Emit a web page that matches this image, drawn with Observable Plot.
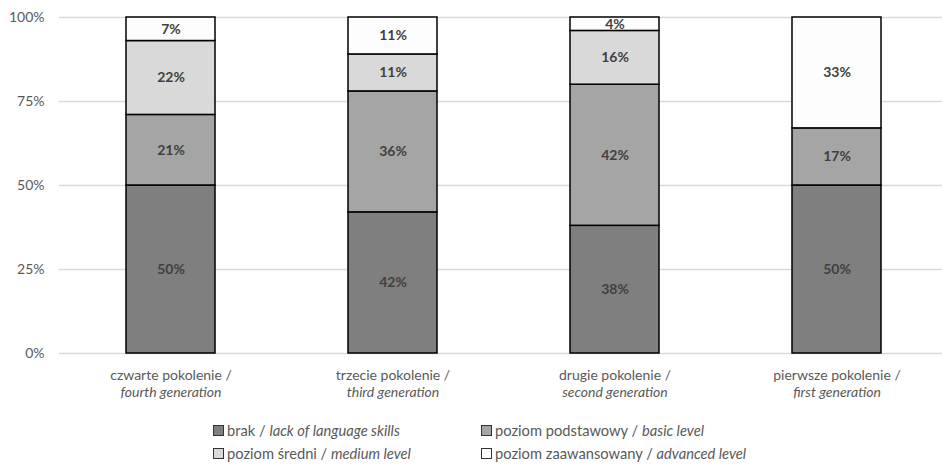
<!DOCTYPE html>
<html>
<head>
<meta charset="utf-8">
<script src="https://cdn.jsdelivr.net/npm/d3@7"></script>
<script src="https://cdn.jsdelivr.net/npm/@observablehq/plot@0.6"></script>
<style>
  body { margin: 0; background: #fff; font-family: Lato, "Open Sans", sans-serif; }
  #wrap { position: relative; width: 942px; height: 465px; }
  .legend { position: absolute; font-size: 14.7px; color: #595959; white-space: nowrap; display: flex; align-items: center; }
  .legend .sw { width: 9px; height: 9px; border: 1px solid #333; margin-right: 3px; display: inline-block; }
  .legend i { font-style: italic; }
</style>
</head>
<body>
<div id="wrap"></div>
<script>
// Generations (x categories), Polish / English labels
const generations = ["czwarte pokolenie", "trzecie pokolenie", "drugie pokolenie", "pierwsze pokolenie"];
const generationsEn = ["fourth generation", "third generation", "second generation", "first generation"];

// Language proficiency levels, bottom to top
const levels = ["brak", "poziom podstawowy", "poziom średni", "poziom zaawansowany"];
const levelsEn = ["lack of language skills", "basic level", "medium level", "advanced level"];
const levelColors = ["#7f7f7f", "#a5a5a5", "#d9d9d9", "#fdfdfd"];

// Shares (%) per level, one value per generation
const brak = [50, 42, 38, 50];
const podstawowy = [21, 36, 42, 17];
const sredni = [22, 11, 16, 0];
const zaawansowany = [7, 11, 4, 33];

const yTicks = [0, 25, 50, 75, 100];

const series = [brak, podstawowy, sredni, zaawansowany];
const rows = [];
generations.forEach((g, i) => {
  levels.forEach((lv, j) => {
    rows.push({ gen: g, level: lv, value: series[j][i] });
  });
});

const labelOf = Object.fromEntries(generations.map((g, i) => [g, g + " /\n" + generationsEn[i]]));

const chart = Plot.plot({
  width: 942,
  height: 400,
  marginTop: 17,
  marginBottom: 47,
  marginLeft: 59,
  marginRight: -5,
  style: { fontFamily: "Lato, 'Open Sans', sans-serif", fontSize: "14px", color: "#595959", background: "#fff" },
  x: { domain: generations, paddingInner: 0.6, paddingOuter: 0.3, label: null },
  y: { domain: [0, 100], label: null },
  color: { domain: levels, range: levelColors },
  marks: [
    Plot.gridY(yTicks, { stroke: "#d9d9d9", strokeOpacity: 1, strokeWidth: 1.5 }),
    Plot.axisY(yTicks, { tickSize: 0, tickPadding: 15, tickFormat: d => d + "%", label: null, fill: "#595959", fontSize: 14 }),
    Plot.axisX({ tickSize: 0, tickPadding: 14, tickFormat: d => labelOf[d], lineHeight: 1.25, label: null, fill: "#595959", fontSize: 14 }),
    Plot.barY(rows, Plot.stackY({
      x: "gen", y: "value", fill: "level", order: levels,
      stroke: "#000", strokeWidth: 1.5
    })),
    Plot.text(rows.filter(d => d.value > 0), Plot.stackY({
      x: "gen", y: "value", z: "level", order: levels,
      text: d => d.value + "%", fill: "#404040", fontWeight: "bold", fontSize: 14
    }))
  ]
});

// second line of each category label is the English name, in italics
d3.select(chart).selectAll("[aria-label='x-axis tick label'] text").each(function () {
  const tspans = d3.select(this).selectAll("tspan");
  tspans.filter((d, i) => i === 1).style("font-style", "italic");
});

const wrap = document.getElementById("wrap");
wrap.appendChild(chart);

const legendPos = [[213, 421], [481, 421], [213, 444], [481, 444]];
levels.forEach((lv, j) => {
  const el = document.createElement("div");
  el.className = "legend";
  el.style.left = legendPos[j][0] + "px";
  el.style.top = legendPos[j][1] + "px";
  el.innerHTML = `<span class="sw" style="background:${levelColors[j]}"></span>${lv} /&nbsp;<i>${levelsEn[j]}</i>`;
  wrap.appendChild(el);
});
</script>
</body>
</html>
